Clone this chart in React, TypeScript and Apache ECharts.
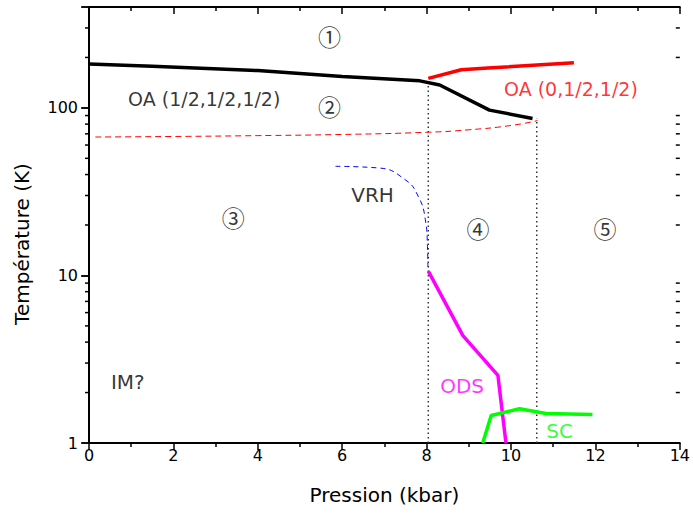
import React, { useEffect, useRef } from "react";
import * as echarts from "echarts";

// ---- data ----
const blackX = [0, 1.5, 4, 6, 7.84, 8.31, 9.49, 10.51];
const blackT = [183, 177, 167, 154, 145, 137, 97, 86.5];

const redX = [8.04, 8.82, 9.45, 11.49];
const redT = [150, 169, 173, 186];

const redDashX = [0.15, 2, 4, 6, 8, 9, 10, 10.63];
const redDashT = [67, 67.5, 68.3, 69.4, 71.5, 74, 78.5, 84];

const blueX = [5.84, 6.86, 7.49, 7.8, 7.97, 8.02, 8.03];
const blueT = [44.8, 43.8, 37.3, 29.7, 21.5, 14.9, 11.3];

const odsX = [8.04, 8.86, 9.69, 9.88];
const odsT = [10.6, 4.37, 2.53, 1];

const scX = [9.33, 9.53, 10.2, 10.83, 11.93];
const scT = [1.0, 1.46, 1.6, 1.5, 1.48];

const dotAX = [8.04, 8.04];
const dotAT = [1, 145];
const dotBX = [10.61, 10.61];
const dotBT = [1, 86];

const minorYTicks = [2, 3, 4, 5, 6, 7, 8, 9, 20, 30, 40, 50, 60, 70, 80, 90, 200, 300];

const annTexts = ["①", "②", "③", "④", "⑤", "OA (1/2,1/2,1/2)", "OA (0,1/2,1/2)", "VRH", "IM?", "ODS", "SC"];
const annX = [5.7, 5.7, 3.42, 9.22, 12.23, 2.73, 11.42, 6.72, 0.92, 8.84, 11.15];
const annT = [268, 103, 22.2, 19.3, 19.3, 113, 129, 30.4, 2.32, 2.2, 1.18];
const annColors = ["#000", "#000", "#000", "#000", "#000", "#000", "#ff0000", "#000", "#000", "#ff00ff", "#00ff00"];
const annSizes = [23, 23, 23, 23, 23, 19, 19, 20, 20, 20, 20];

const FONT = "DejaVu Sans";
const CIRC_FONT = "Noto Sans CJK SC";

const zip = (xs: number[], ys: number[]) => xs.map((x, i) => [x, ys[i]]);

export default function App() {
  const ref = useRef<HTMLDivElement>(null);
  useEffect(() => {
    if (!ref.current) return;
    const chart = echarts.init(ref.current, undefined, { renderer: "svg" });
    const axisLine = { show: true, lineStyle: { color: "#000", width: 2 } };
    const tickStyle = { color: "#000", width: 1.5 };
    const isPow10 = (v: number) => Math.abs(Math.log10(v) - Math.round(Math.log10(v))) < 1e-6;
    const thick = (color: string) => ({ color, width: 3.5 });
    const lineSeries = (data: number[][], lineStyle: any, smooth = false) => ({
      type: "line",
      data,
      showSymbol: false,
      symbol: "none",
      smooth,
      lineStyle,
      xAxisIndex: 0,
      yAxisIndex: 0,
      silent: true,
      z: 3,
    });
    chart.setOption({
      animation: false,
      textStyle: { fontFamily: FONT },
      grid: { left: 89, right: 10, top: 7, bottom: 71, containLabel: false },
      xAxis: [
        {
          type: "value",
          position: "bottom",
          min: 0,
          max: 14,
          interval: 2,
          axisLine,
          axisTick: { show: true, inside: false, length: 7, lineStyle: tickStyle },
          minorTick: { show: true, splitNumber: 2, length: 4, lineStyle: tickStyle },
          axisLabel: { color: "#000", fontSize: 16, fontFamily: FONT, margin: 4 },
          splitLine: { show: false },
          name: "Pression (kbar)",
          nameLocation: "middle",
          nameGap: 42,
          nameTextStyle: { color: "#000", fontSize: 20, fontFamily: FONT },
        },
        {
          type: "value",
          position: "top",
          min: 0,
          max: 14,
          interval: 2,
          axisLine,
          axisTick: { show: true, inside: true, length: 7, lineStyle: tickStyle },
          minorTick: { show: true, splitNumber: 2, length: 4, lineStyle: tickStyle },
          axisLabel: { show: false },
          splitLine: { show: false },
        },
      ],
      yAxis: [
        {
          type: "log",
          logBase: 10,
          position: "left",
          min: 1,
          max: 400,
          axisLine,
          axisTick: { show: true, inside: false, length: 8, lineStyle: tickStyle },
          axisLabel: {
            color: "#000",
            fontSize: 16,
            fontFamily: FONT,
            margin: 11,
            formatter: (v: number) => (isPow10(v) ? String(Math.round(v)) : ""),
          },
          splitLine: { show: false },
        },
        {
          type: "log",
          logBase: 10,
          position: "right",
          min: 1,
          max: 400,
          axisLine,
          axisTick: { show: true, inside: true, length: 7, lineStyle: tickStyle },
          axisLabel: { show: false },
          splitLine: { show: false },
        },
      ],
      graphic: [
        {
          type: "text",
          x: 22,
          y: 244,
          rotation: Math.PI / 2,
          style: {
            text: "Température (K)",
            font: `20px "${FONT}"`,
            fill: "#000",
            textAlign: "center",
            textVerticalAlign: "middle",
          },
        },
      ],
      series: [
        {
          type: "custom",
          xAxisIndex: 0,
          yAxisIndex: 0,
          clip: false,
          silent: true,
          data: minorYTicks.map((v) => [0, v]),
          renderItem: (params: any, api: any) => {
            const v = api.value(1);
            const pL = api.coord([0, v]);
            const pR = api.coord([14, v]);
            return {
              type: "group",
              children: [
                { type: "line", shape: { x1: pL[0] - 4, y1: pL[1], x2: pL[0], y2: pL[1] }, style: { stroke: "#000", lineWidth: 1.5 } },
                { type: "line", shape: { x1: pR[0] - 4, y1: pR[1], x2: pR[0], y2: pR[1] }, style: { stroke: "#000", lineWidth: 1.5 } },
              ],
            };
          },
        },
        lineSeries(zip(dotAX, dotAT), { color: "#333", width: 1.5, type: [1.5, 3] }),
        lineSeries(zip(dotBX, dotBT), { color: "#333", width: 1.5, type: [1.5, 3] }),
        lineSeries(zip(redDashX, redDashT), { color: "#ff0000", width: 1, type: [6, 4] }, true),
        lineSeries(zip(blueX, blueT), { color: "#0000ff", width: 1, type: [5, 4] }, true),
        lineSeries(zip(blackX, blackT), thick("#000")),
        lineSeries(zip(redX, redT), thick("#ff0000")),
        lineSeries(zip(odsX, odsT), thick("#ff00ff")),
        lineSeries(zip(scX, scT), thick("#00ff00")),
        {
          type: "scatter",
          xAxisIndex: 0,
          yAxisIndex: 0,
          symbolSize: 0,
          silent: true,
          z: 5,
          data: annTexts.map((t, i) => ({
            name: t,
            value: [annX[i], annT[i]],
            label: {
              color: annColors[i],
              fontSize: annSizes[i],
              fontFamily: i < 5 ? CIRC_FONT : FONT,
            },
          })),
          label: {
            show: true,
            position: "inside",
            fontFamily: FONT,
            formatter: (p: any) => p.name,
          },
        },
      ],
    });
    return () => chart.dispose();
  }, []);
  return <div ref={ref} style={{ position: "absolute", left: 0, top: 0, width: 693, height: 514 }} />;
}
